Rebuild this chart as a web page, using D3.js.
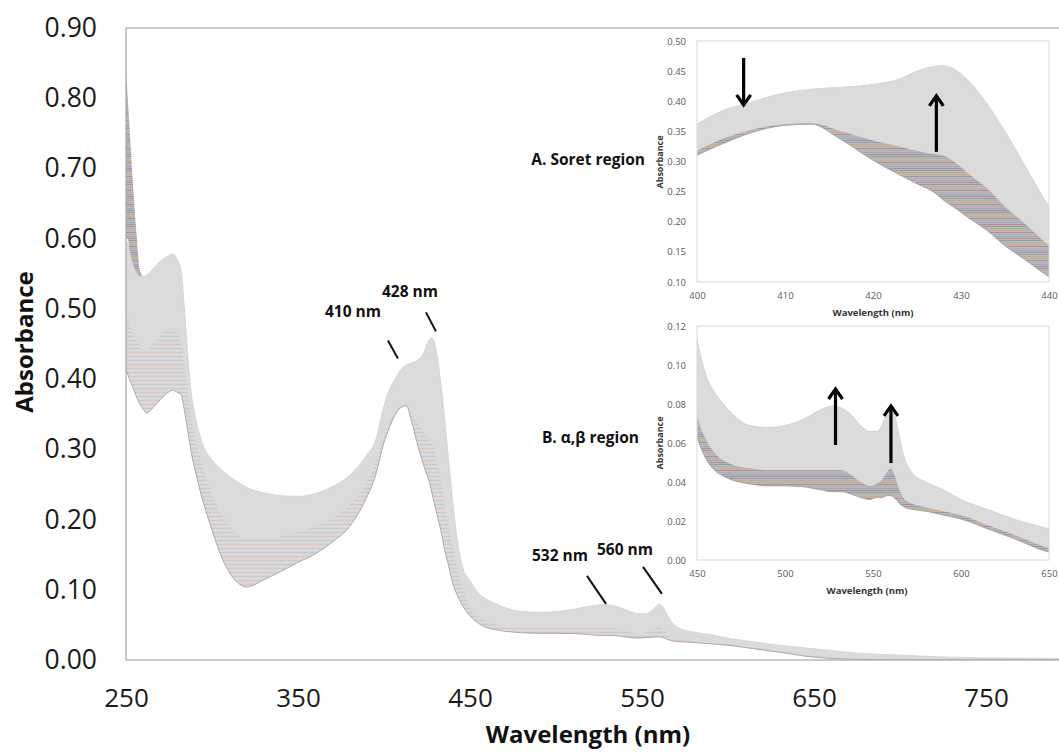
<!DOCTYPE html>
<html><head><meta charset="utf-8">
<script src="https://cdnjs.cloudflare.com/ajax/libs/d3/7.8.5/d3.min.js"></script>
<style>
html,body{margin:0;padding:0;background:#fff;overflow:hidden;}
svg{display:block;}
</style></head>
<body>
<svg id="chart" width="1059" height="755"></svg>
<script>
// ---- data ----
const wavelengths = [250,252,254,256,258,260,262,266,270,274,277,280,282,284,286,288,290,295,300,305,310,315,320,330,340,350,360,370,380,390,395,400,403,406,410,413,416,420,423,425,427,428,429,431,433,435,437,440,443,446,450,455,460,465,470,480,490,500,510,520,527,532,537,543,548,552,555,558,560,562,565,568,572,580,590,600,615,630,650,675,700,730,760,800];
// highest (late, grey) scans
const absUpper = [0.600,0.585,0.565,0.552,0.547,0.546,0.548,0.558,0.568,0.575,0.578,0.570,0.555,0.500,0.430,0.380,0.350,0.305,0.285,0.272,0.262,0.253,0.246,0.238,0.234,0.233,0.237,0.247,0.263,0.292,0.312,0.362,0.385,0.398,0.414,0.420,0.423,0.428,0.437,0.450,0.458,0.459,0.455,0.432,0.395,0.350,0.300,0.225,0.165,0.130,0.113,0.095,0.086,0.080,0.075,0.069,0.068,0.069,0.072,0.077,0.079,0.078,0.075,0.069,0.066,0.066,0.069,0.076,0.079,0.076,0.063,0.052,0.045,0.040,0.036,0.031,0.026,0.021,0.016,0.010,0.007,0.004,0.003,0.002];
// lowest (early, coloured) scans
const absLower = [0.414,0.400,0.388,0.375,0.365,0.357,0.352,0.360,0.371,0.380,0.384,0.381,0.378,0.355,0.325,0.295,0.272,0.224,0.185,0.150,0.125,0.110,0.104,0.114,0.126,0.139,0.151,0.168,0.190,0.232,0.262,0.310,0.330,0.347,0.360,0.362,0.340,0.302,0.278,0.263,0.248,0.236,0.226,0.205,0.185,0.160,0.140,0.109,0.090,0.076,0.063,0.052,0.046,0.043,0.041,0.039,0.038,0.038,0.0376,0.036,0.035,0.035,0.034,0.032,0.031,0.032,0.032,0.033,0.033,0.032,0.029,0.027,0.026,0.025,0.023,0.021,0.016,0.011,0.004,0.001,0.0,0.0,0.0,0.0];
// upper limit of the visibly coloured scans
const absColourTop = [0.50,0.48,0.465,0.455,0.445,0.44,0.44,0.45,0.462,0.47,0.472,0.465,0.455,0.42,0.38,0.345,0.32,0.27,0.235,0.21,0.19,0.178,0.172,0.172,0.176,0.182,0.19,0.202,0.22,0.255,0.28,0.318,0.338,0.352,0.362,0.364,0.352,0.335,0.325,0.318,0.312,0.31,0.302,0.278,0.255,0.225,0.2,0.16,0.125,0.1,0.075,0.062,0.055,0.051,0.049,0.047,0.046,0.046,0.046,0.046,0.046,0.046,0.044,0.04,0.038,0.039,0.041,0.045,0.047,0.044,0.036,0.031,0.029,0.027,0.025,0.023,0.018,0.013,0.006,0.002,0.001,0.0005,0.0,0.0];
// early scans rising at the short-wavelength edge
const spikeWavelengths = [250,251,252,254,256,258,260,262];
const spikeAbs = [0.84,0.80,0.76,0.68,0.61,0.556,0.546,0.548];

const mainYTicks = [0,0.1,0.2,0.3,0.4,0.5,0.6,0.7,0.8,0.9];
const mainXTicks = [250,350,450,550,650,750];
const insetAYTicks = [0.10,0.15,0.20,0.25,0.30,0.35,0.40,0.45,0.50];
const insetAXTicks = [400,410,420,430,440];
const insetBYTicks = [0,0.02,0.04,0.06,0.08,0.10,0.12];
const insetBXTicks = [450,500,550,600,650];

const peakLabels = [
  {text:"410 nm", tx:353, ty:317, line:[[402.3,0.455],[408.1,0.4294]]},
  {text:"428 nm", tx:410, ty:297, line:[[424.4,0.495],[430.2,0.468]]},
  {text:"532 nm", tx:560, ty:561, line:[[518.0,0.1198],[529.1,0.0799]]},
  {text:"560 nm", tx:625, ty:555, line:[[550.6,0.1327],[561.6,0.0942]]}
];
const insetAArrows = [{wl:405.3, from:0.472, to:0.394},{wl:427.2, from:0.316, to:0.409}];
const insetBArrows = [{wl:528.7, from:0.059, to:0.0877},{wl:560.2, from:0.0497, to:0.079}];

// ---- drawing ----
const svg = d3.select("#chart");
const rows = wavelengths.map((w,i)=>({w, up:absUpper[i], lo:absLower[i], ct:absColourTop[i]}));
const spikeRows = spikeWavelengths.map((w,i)=>({w, s:spikeAbs[i], up:absUpper[wavelengths.indexOf(w)] ?? absUpper[0]}));

const defs = svg.append("defs");
function stripePattern(id, base, colours, op){
  const p = defs.append("pattern").attr("id",id).attr("patternUnits","userSpaceOnUse")
    .attr("width",4).attr("height",colours.length*2);
  p.append("rect").attr("width",4).attr("height",colours.length*2).attr("fill",base);
  colours.forEach((c,i)=>p.append("rect").attr("x",0).attr("y",i*2).attr("width",4).attr("height",1).attr("fill",c).attr("opacity",op));
}
stripePattern("pastel","#d7d5d6",["#9fc2de","#e6e6e6","#f2b594","#e4e4e4","#c4b6d2","#e8e8e8"],0.45);
stripePattern("vivid","#bdb7b9",["#c0504d","#4f81bd","#9bbb59","#f79646","#8064a2","#a5a5a5","#4bacc6"],0.45);

function drawBands(g, x, y, colourPattern, clipId, withSpike){
  const gg = g.append("g").attr("clip-path",`url(#${clipId})`);
  const curve = d3.curveMonotoneX;
  gg.append("path").datum(rows).attr("fill","#dcdbdb")
    .attr("d", d3.area().curve(curve).x(d=>x(d.w)).y0(d=>y(d.lo)).y1(d=>y(d.up)));
  gg.append("path").datum(rows).attr("fill",`url(#${colourPattern})`)
    .attr("d", d3.area().curve(curve).x(d=>x(d.w)).y0(d=>y(d.lo)).y1(d=>y(d.ct)));
  gg.append("path").datum(rows).attr("fill","none").attr("stroke","#d0d0d0").attr("stroke-width",0.8)
    .attr("d", d3.line().curve(curve).x(d=>x(d.w)).y(d=>y(d.up)));
  gg.append("path").datum(rows).attr("fill","none").attr("stroke","#a39a9e").attr("stroke-width",0.8)
    .attr("d", d3.line().curve(curve).x(d=>x(d.w)).y(d=>y(d.lo)));
  if(withSpike){
    gg.append("path").datum(spikeRows).attr("fill","url(#vivid)")
      .attr("d", d3.area().curve(curve).x(d=>x(d.w)).y0(d=>y(Math.min(d.up,d.s))).y1(d=>y(d.s)));
  }
}

// main chart
const X = d3.scaleLinear().domain([250,800]).range([126,1072]);
const Y = d3.scaleLinear().domain([0,0.9]).range([660,28]);
defs.append("clipPath").attr("id","clipMain").append("rect")
  .attr("x",126).attr("y",28).attr("width",946).attr("height",632);
const main = svg.append("g");
drawBands(main, X, Y, "pastel", "clipMain", true);
main.append("rect").attr("x",126).attr("y",28).attr("width",946).attr("height",632)
  .attr("fill","none").attr("stroke","#a6a6a6").attr("stroke-width",1.2);

const yAx = main.append("g").attr("transform","translate(126,0)")
  .call(d3.axisLeft(Y).tickValues(mainYTicks).tickFormat(d3.format(".2f")).tickSize(0).tickPadding(29));
yAx.select(".domain").remove();
yAx.selectAll("text").attr("font-family","'Open Sans'").attr("font-size",26.5).attr("fill","#1a1a1a");
const xAx = main.append("g").attr("transform","translate(0,660)")
  .call(d3.axisBottom(X).tickValues(mainXTicks).tickFormat(d3.format("d")).tickSize(0).tickPadding(29));
xAx.select(".domain").remove();
xAx.selectAll("text").attr("font-family","'Open Sans'").attr("font-size",26).attr("fill","#1a1a1a");

svg.append("text").attr("transform","translate(23,342) rotate(-90)").attr("text-anchor","middle")
  .attr("dominant-baseline","central").attr("font-family","'Open Sans'").attr("font-weight","bold")
  .attr("font-size",24).attr("fill","#111").text("Absorbance");
svg.append("text").attr("x",588).attr("y",743).attr("text-anchor","middle")
  .attr("font-family","'Open Sans'").attr("font-weight","bold").attr("font-size",24).attr("fill","#111")
  .text("Wavelength (nm)");

peakLabels.forEach(p=>{
  svg.append("text").attr("x",p.tx).attr("y",p.ty).attr("text-anchor","middle")
    .attr("font-family","'Open Sans'").attr("font-weight","bold").attr("font-size",15.5).attr("fill","#111").text(p.text);
  svg.append("line").attr("x1",X(p.line[0][0])).attr("y1",Y(p.line[0][1]))
    .attr("x2",X(p.line[1][0])).attr("y2",Y(p.line[1][1])).attr("stroke","#111").attr("stroke-width",2);
});

// insets
function inset(id, xDom, yDom, xr, yr, xTicks, yTicks, yFmt, arrows, titleX, titleY, sideLabel, sideY){
  const x = d3.scaleLinear().domain(xDom).range(xr);
  const y = d3.scaleLinear().domain(yDom).range(yr);
  defs.append("clipPath").attr("id",id).append("rect")
    .attr("x",xr[0]).attr("y",yr[1]).attr("width",xr[1]-xr[0]).attr("height",yr[0]-yr[1]);
  const g = svg.append("g");
  g.append("rect").attr("x",xr[0]).attr("y",yr[1]).attr("width",xr[1]-xr[0]).attr("height",yr[0]-yr[1]).attr("fill","#fff");
  drawBands(g, x, y, "vivid", id, false);
  g.append("rect").attr("x",xr[0]).attr("y",yr[1]).attr("width",xr[1]-xr[0]).attr("height",yr[0]-yr[1])
    .attr("fill","none").attr("stroke","#d9d9d9").attr("stroke-width",1);
  const ya = g.append("g").attr("transform",`translate(${xr[0]},0)`)
    .call(d3.axisLeft(y).tickValues(yTicks).tickFormat(d3.format(yFmt)).tickSize(0).tickPadding(11));
  ya.select(".domain").remove();
  ya.selectAll("text").attr("font-family","'Open Sans'").attr("font-size",9.5).attr("fill","#595959");
  const xa = g.append("g").attr("transform",`translate(0,${yr[0]})`)
    .call(d3.axisBottom(x).tickValues(xTicks).tickFormat(d3.format("d")).tickSize(0).tickPadding(10));
  xa.select(".domain").remove();
  xa.selectAll("text").attr("font-family","'Open Sans'").attr("font-size",9.5).attr("fill","#595959");
  g.append("text").attr("x",titleX).attr("y",titleY).attr("text-anchor","middle")
    .attr("font-family","'Open Sans'").attr("font-weight","bold").attr("font-size",9.5).attr("fill","#333").text("Wavelength (nm)");
  g.append("text").attr("transform",`translate(659,${sideY}) rotate(-90)`).attr("text-anchor","middle")
    .attr("dominant-baseline","central").attr("font-family","'Open Sans'").attr("font-weight","bold")
    .attr("font-size",9).attr("fill","#333").text("Absorbance");
  g.append("text").attr("x",sideLabel.x).attr("y",sideLabel.y).attr("text-anchor","end")
    .attr("font-family","'Open Sans'").attr("font-weight","bold").attr("font-size",15.5).attr("fill","#111").text(sideLabel.text);
  arrows.forEach(a=>{
    const ax = x(a.wl), y0 = y(a.from), y1 = y(a.to);
    const dir = y1 < y0 ? 1 : -1;
    g.append("line").attr("x1",ax).attr("y1",y0).attr("x2",ax).attr("y2",y1+dir*1)
      .attr("stroke","#000").attr("stroke-width",3.2);
    g.append("path").attr("d",`M${ax-7},${y1+dir*10}L${ax},${y1}L${ax+7},${y1+dir*10}`)
      .attr("fill","none").attr("stroke","#000").attr("stroke-width",3.2).attr("stroke-linejoin","miter");
  });
}
inset("clipA",[400,440],[0.10,0.50],[697,1049],[282,41],insetAXTicks,insetAYTicks,".2f",insetAArrows,873,316,{text:"A. Soret region",x:645,y:165},162);
inset("clipB",[450,650],[0,0.12],[697,1049],[560,326],insetBXTicks,insetBYTicks,".2f",insetBArrows,867,594,{text:"B. α,β region",x:639,y:443},443);
</script>
</body></html>
